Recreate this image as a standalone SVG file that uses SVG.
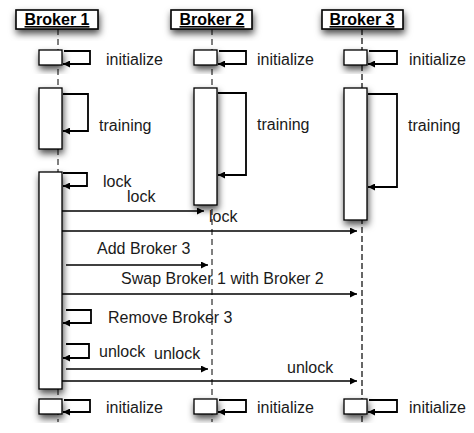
<svg xmlns="http://www.w3.org/2000/svg" width="474" height="433" viewBox="0 0 474 433">
<defs>
<filter id="sh" x="-60%" y="-60%" width="220%" height="220%">
<feDropShadow dx="1" dy="4" stdDeviation="3.5" flood-color="#000" flood-opacity="0.7"/>
</filter>
<marker id="ah" viewBox="0 0 10 10" refX="10" refY="5" markerWidth="9" markerHeight="7" markerUnits="userSpaceOnUse" orient="auto">
<path d="M0,0 L10,5 L0,10 z" fill="#000"/>
</marker>
</defs>
<style>
text{font-family:"Liberation Sans",Arial,sans-serif;font-size:16px;fill:#1a1a1a}
.hd{font-weight:bold;font-size:16px;text-decoration:underline;text-anchor:middle;fill:#000}
.hbox{fill:#fff;stroke:#000;stroke-width:1.6}
.act{fill:#fff;stroke:#000;stroke-width:1.3}
.life{stroke:#000;stroke-width:1;stroke-dasharray:6,4;fill:none}
.life3{stroke:#666;stroke-width:2;stroke-dasharray:6,3;fill:none}
.loop{fill:none;stroke:#000;stroke-width:1.8;marker-end:url(#ah)}
.msg{fill:none;stroke:#000;stroke-width:1.3;marker-end:url(#ah)}
</style>
<rect width="474" height="433" fill="#fff"/>

<g id="lifelines">
<line class="life" x1="58" y1="29" x2="58" y2="422"/>
<line class="life" x1="212" y1="29" x2="212" y2="422"/>
<line class="life3" x1="362" y1="29" x2="362" y2="422"/>
</g>

<g id="broker1">
<rect class="hbox" x="16" y="10" width="82" height="19" filter="url(#sh)"/>
<text class="hd" x="57" y="25">Broker 1</text>
<rect class="act" x="39" y="50" width="23" height="15" filter="url(#sh)"/>
<rect class="act" x="39" y="88" width="23" height="61" filter="url(#sh)"/>
<rect class="act" x="39" y="172" width="23" height="217" filter="url(#sh)"/>
<rect class="act" x="39" y="399" width="23" height="15" filter="url(#sh)"/>
</g>

<g id="broker2">
<rect class="hbox" x="171" y="10" width="81" height="19" filter="url(#sh)"/>
<text class="hd" x="212" y="25">Broker 2</text>
<rect class="act" x="194" y="50" width="23" height="15" filter="url(#sh)"/>
<rect class="act" x="194" y="88" width="23" height="117" filter="url(#sh)"/>
<rect class="act" x="194" y="399" width="23" height="15" filter="url(#sh)"/>
</g>

<g id="broker3">
<rect class="hbox" x="322" y="10" width="81" height="19" filter="url(#sh)"/>
<text class="hd" x="362" y="25">Broker 3</text>
<rect class="act" x="344" y="50" width="23" height="15" filter="url(#sh)"/>
<rect class="act" x="344" y="88" width="23" height="132" filter="url(#sh)"/>
<rect class="act" x="344" y="399" width="23" height="15" filter="url(#sh)"/>
</g>

<g id="connectors">
<path class="loop" d="M64,51 H90 V64 H63"/>
<path class="loop" d="M219,51 H246 V64 H218"/>
<path class="loop" d="M369,51 H397 V64 H368"/>
<path class="loop" d="M63,94 H88 V131 H63"/>
<path class="loop" d="M218,93 H246 V175 H218"/>
<path class="loop" d="M368,94 H397 V187 H368"/>
<path class="loop" d="M63,173 H87 V186 H63"/>
<path class="msg" d="M62,211 H204"/>
<path class="msg" d="M62,231 H357"/>
<path class="msg" d="M66,265 H208"/>
<path class="msg" d="M62,294 H357"/>
<path class="loop" d="M66,310 H91 V323 H63"/>
<path class="loop" d="M66,344 H89 V358 H63"/>
<path class="msg" d="M66,369 H208"/>
<path class="msg" d="M62,381 H357"/>
<path class="loop" d="M64,400 H90 V412 H63"/>
<path class="loop" d="M219,400 H246 V412 H218"/>
<path class="loop" d="M369,400 H397 V412 H368"/>
</g>

<g id="labels">
<text x="106" y="65">initialize</text>
<text x="257" y="65">initialize</text>
<text x="409" y="65">initialize</text>
<text x="99" y="131">training</text>
<text x="257" y="130">training</text>
<text x="408" y="131">training</text>
<text x="103" y="187">lock</text>
<text x="127" y="202">lock</text>
<text x="209" y="222">lock</text>
<text x="97" y="254">Add Broker 3</text>
<text x="121" y="284">Swap Broker 1 with Broker 2</text>
<text x="108" y="323">Remove Broker 3</text>
<text x="99" y="357">unlock</text>
<text x="154" y="359">unlock</text>
<text x="287" y="373">unlock</text>
<text x="106" y="413">initialize</text>
<text x="257" y="413">initialize</text>
<text x="409" y="413">initialize</text>
</g>
</svg>
